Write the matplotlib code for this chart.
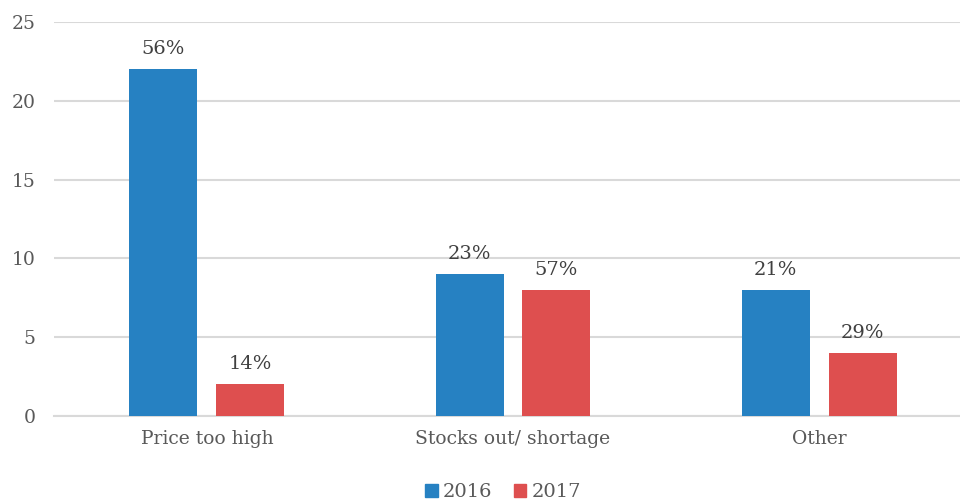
import numpy as np
import matplotlib.pyplot as plt
from matplotlib.patches import Patch

categories = ["Price too high", "Stocks out/ shortage", "Other"]
values_2016 = [22, 9, 8]
values_2017 = [2, 8, 4]
labels_2016 = ["56%", "23%", "21%"]
labels_2017 = ["14%", "57%", "29%"]

blue = "#2681C2"
red = "#DE4F4F"
text_color = "#595959"
plt.rcParams["font.family"] = "DejaVu Serif"

fig = plt.figure(figsize=(9.6, 5.01), dpi=100)
ax = fig.add_axes([0.056, 0.1697, 0.944, 0.7865])

x = np.arange(len(categories))
w = 0.222
off = 0.142
b1 = ax.bar(x - off, values_2016, w, color=blue, zorder=3)
b2 = ax.bar(x + off, values_2017, w, color=red, zorder=3)

for bars, labs in [(b1, labels_2016), (b2, labels_2017)]:
    for rect, lab in zip(bars, labs):
        ax.annotate(lab, (rect.get_x() + rect.get_width() / 2, rect.get_height()),
                    xytext=(0, 8), textcoords="offset points",
                    ha="center", va="bottom", fontsize=14, color="#404040")

ax.set_xlim(-0.5, 2.46)
ax.set_ylim(0, 25)
ax.set_yticks([0, 5, 10, 15, 20, 25])
ax.set_xticks(x)
ax.set_xticklabels(categories)
ax.grid(axis="y", color="#D9D9D9", linewidth=1.5, zorder=0)
for s in ["top", "right", "left"]:
    ax.spines[s].set_visible(False)
ax.spines["bottom"].set_color("#D9D9D9")
ax.spines["bottom"].set_linewidth(1.5)
ax.tick_params(axis="both", length=0, labelsize=13.5, labelcolor=text_color)
ax.tick_params(axis="y", pad=13)
ax.tick_params(axis="x", pad=10)

handles = [Patch(color=blue, label="2016"), Patch(color=red, label="2017")]
fig.legend(handles=handles, loc="lower center", ncol=2, frameon=False,
           fontsize=14, labelcolor=text_color, handlelength=0.65, handleheight=0.65,
           handletextpad=0.25, columnspacing=1.1, bbox_to_anchor=(0.524, -0.035))

fig.savefig("out.png", dpi=100)
